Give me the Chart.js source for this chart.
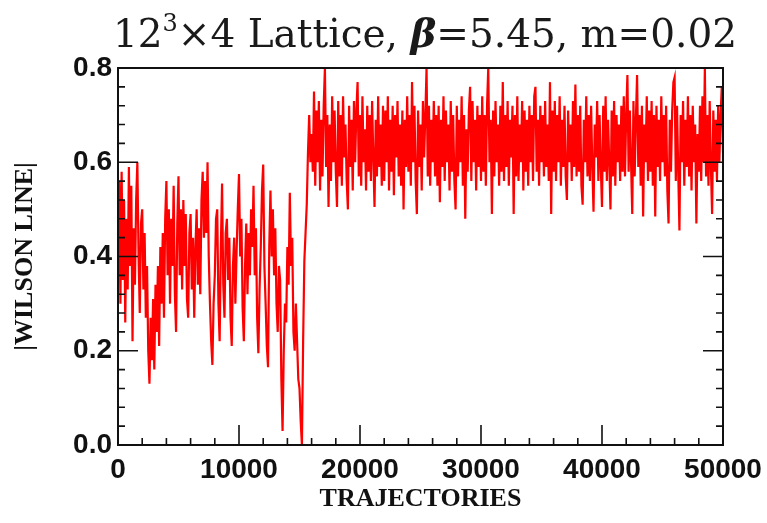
<!DOCTYPE html>
<html lang="en">
<head>
    <meta charset="UTF-8">
    <title>Wilson line history</title>
    <script src="https://cdn.jsdelivr.net/npm/chart.js"></script>
    <style>
        body {
            margin: 0;
            padding: 0;
            background-color: #fff;
        }
        .chart-container {
            position: relative;
            width: 767px;
            height: 523px;
        }
    </style>
</head>
<body>
    <div class="chart-container">
        <canvas id="wilsonChart"></canvas>
    </div>

    <script>
        const sampleEvery = 100;
        const wilsonLine = [
            0.42, 0.56, 0.30, 0.58, 0.35, 0.52, 0.26, 0.48, 0.33, 0.59, 0.38, 0.55, 0.22, 0.46, 0.34, 0.52, 0.60, 0.40, 0.28, 0.47,     // 0
            0.50, 0.33, 0.45, 0.27, 0.38, 0.20, 0.13, 0.27, 0.18, 0.31, 0.16, 0.34, 0.24, 0.38, 0.21, 0.42, 0.30, 0.45, 0.27, 0.48,     // 2000
            0.56, 0.36, 0.50, 0.30, 0.48, 0.38, 0.55, 0.32, 0.24, 0.47, 0.57, 0.36, 0.50, 0.33, 0.52, 0.38, 0.49, 0.31, 0.27, 0.45,     // 4000
            0.49, 0.33, 0.44, 0.27, 0.42, 0.50, 0.34, 0.46, 0.32, 0.52, 0.58, 0.44, 0.56, 0.45, 0.60, 0.40, 0.30, 0.22, 0.17, 0.30,     // 6000
            0.36, 0.48, 0.50, 0.30, 0.22, 0.42, 0.555, 0.34, 0.27, 0.45, 0.48, 0.35, 0.44, 0.27, 0.21, 0.38, 0.44, 0.30, 0.41, 0.50,    // 8000
            0.575, 0.40, 0.48, 0.29, 0.22, 0.38, 0.47, 0.32, 0.45, 0.36, 0.50, 0.42, 0.55, 0.36, 0.46, 0.27, 0.195, 0.33, 0.42, 0.54,   // 10000
            0.595, 0.38, 0.30, 0.21, 0.165, 0.42, 0.54, 0.40, 0.50, 0.36, 0.46, 0.30, 0.24, 0.38, 0.35, 0.14, 0.03, 0.20, 0.30, 0.26,   // 12000
            0.42, 0.34, 0.535, 0.38, 0.44, 0.24, 0.20, 0.30, 0.22, 0.14, 0.12, 0.05, 0.00, 0.22, 0.39, 0.45, 0.51, 0.62, 0.70, 0.60,    // 14000
            0.66, 0.58, 0.75, 0.55, 0.71, 0.60, 0.73, 0.54, 0.69, 0.57, 0.72, 0.80, 0.59, 0.70, 0.505, 0.68, 0.56, 0.74, 0.60, 0.71,    // 16000
            0.58, 0.505, 0.73, 0.57, 0.70, 0.55, 0.74, 0.61, 0.68, 0.56, 0.50, 0.72, 0.59, 0.69, 0.54, 0.73, 0.60, 0.71, 0.77, 0.57,    // 18000
            0.70, 0.55, 0.74, 0.60, 0.67, 0.54, 0.72, 0.58, 0.70, 0.56, 0.73, 0.61, 0.505, 0.69, 0.57, 0.74, 0.59, 0.68, 0.55, 0.72,    // 20000
            0.56, 0.71, 0.60, 0.74, 0.54, 0.69, 0.58, 0.72, 0.53, 0.70, 0.61, 0.73, 0.57, 0.68, 0.55, 0.71, 0.50, 0.69, 0.59, 0.74,     // 22000
            0.58, 0.70, 0.55, 0.77, 0.60, 0.72, 0.56, 0.49, 0.71, 0.59, 0.68, 0.54, 0.73, 0.61, 0.70, 0.80, 0.57, 0.72, 0.55, 0.69,     // 24000
            0.60, 0.73, 0.57, 0.70, 0.55, 0.72, 0.515, 0.69, 0.59, 0.74, 0.56, 0.71, 0.60, 0.68, 0.54, 0.73, 0.58, 0.70, 0.56, 0.50,    // 26000
            0.72, 0.57, 0.69, 0.60, 0.74, 0.55, 0.70, 0.48, 0.67, 0.58, 0.71, 0.76, 0.56, 0.73, 0.60, 0.69, 0.54, 0.72, 0.59, 0.70,     // 28000
            0.56, 0.74, 0.58, 0.70, 0.55, 0.72, 0.80, 0.60, 0.69, 0.49, 0.71, 0.57, 0.73, 0.60, 0.68, 0.55, 0.72, 0.58, 0.77, 0.56,     // 30000
            0.70, 0.59, 0.73, 0.55, 0.69, 0.61, 0.72, 0.49, 0.70, 0.57, 0.74, 0.56, 0.68, 0.60, 0.73, 0.54, 0.71, 0.58, 0.69, 0.55,     // 32000
            0.72, 0.60, 0.70, 0.56, 0.74, 0.76, 0.58, 0.69, 0.55, 0.72, 0.60, 0.70, 0.57, 0.73, 0.59, 0.68, 0.56, 0.77, 0.49, 0.71,     // 34000
            0.58, 0.73, 0.56, 0.70, 0.60, 0.74, 0.55, 0.69, 0.59, 0.72, 0.57, 0.52, 0.71, 0.60, 0.68, 0.56, 0.73, 0.59, 0.765, 0.57,    // 36000
            0.70, 0.58, 0.72, 0.55, 0.51, 0.69, 0.60, 0.74, 0.57, 0.70, 0.56, 0.72, 0.59, 0.495, 0.68, 0.61, 0.73, 0.56, 0.70, 0.59,    // 38000
            0.505, 0.72, 0.58, 0.74, 0.56, 0.69, 0.60, 0.50, 0.71, 0.57, 0.73, 0.55, 0.70, 0.60, 0.68, 0.56, 0.72, 0.58, 0.74, 0.57,    // 40000
            0.70, 0.785, 0.58, 0.71, 0.60, 0.49, 0.73, 0.57, 0.69, 0.785, 0.59, 0.70, 0.55, 0.72, 0.485, 0.68, 0.60, 0.74, 0.56, 0.71,  // 42000
            0.58, 0.73, 0.55, 0.70, 0.485, 0.72, 0.59, 0.69, 0.56, 0.74, 0.60, 0.70, 0.57, 0.72, 0.54, 0.47, 0.69, 0.58, 0.71, 0.77,    // 44000
            0.78, 0.56, 0.72, 0.58, 0.455, 0.70, 0.60, 0.73, 0.55, 0.69, 0.59, 0.74, 0.57, 0.70, 0.54, 0.72, 0.60, 0.68, 0.47, 0.66,    // 46000
            0.58, 0.72, 0.56, 0.74, 0.60, 0.80, 0.57, 0.70, 0.55, 0.73, 0.59, 0.49, 0.71, 0.58, 0.69, 0.56, 0.72, 0.60, 0.70, 0.76,     // 48000
            0.62                                                                                                                       // 50000
        ];
        const trajectories = wilsonLine.map((_, i) => i * sampleEvery);

        const xTicks = [0, 10000, 20000, 30000, 40000, 50000];
        const yTicks = [0.0, 0.2, 0.4, 0.6, 0.8];

        // title drawn in pieces so the superscript and the bold beta come out right
        const titlePlugin = {
            id: 'latticeTitle',
            afterDraw(chart) {
                const ctx = chart.ctx;
                const size = 39;
                const parts = [
                    { text: '12', font: `${size}px "DejaVu Serif"`, dy: 0 },
                    { text: '3', font: `${Math.round(size * 0.62)}px "DejaVu Serif"`, dy: -size * 0.42 },
                    { text: '×4 Lattice, ', font: `${size}px "DejaVu Serif"`, dy: 0 },
                    { text: 'β', font: `italic bold ${size}px "DejaVu Serif"`, dy: 0 },
                    { text: '=5.45, m=0.02', font: `${size}px "DejaVu Serif"`, dy: 0 }
                ];
                ctx.save();
                let total = 0;
                parts.forEach(p => {
                    ctx.font = p.font;
                    p.w = ctx.measureText(p.text).width;
                    total += p.w;
                });
                let x = 425 - total / 2;
                const baseline = 47;
                ctx.fillStyle = '#1a1a1a';
                ctx.textBaseline = 'alphabetic';
                parts.forEach(p => {
                    ctx.font = p.font;
                    ctx.fillText(p.text, x, baseline + p.dy);
                    x += p.w;
                });
                ctx.restore();
            }
        };

        // frame plus inward tick marks on left, right and bottom
        const framePlugin = {
            id: 'frameTicks',
            afterDraw(chart) {
                const { ctx, chartArea: a } = chart;
                const xs = chart.scales.x;
                const ys = chart.scales.y;
                ctx.save();
                ctx.strokeStyle = '#111';
                ctx.lineWidth = 2;
                ctx.strokeRect(a.left, a.top, a.right - a.left, a.bottom - a.top);
                ctx.lineWidth = 1.6;
                ctx.beginPath();
                for (let t = 0; t <= 50000; t += 2000) {
                    const px = xs.getPixelForValue(t);
                    const len = t % 10000 === 0 ? 20 : 7;
                    ctx.moveTo(px, a.bottom);
                    ctx.lineTo(px, a.bottom - len);
                }
                for (let k = 0; k <= 20; k++) {
                    const py = ys.getPixelForValue(k * 0.04);
                    const len = k % 5 === 0 ? 20 : 7;
                    ctx.moveTo(a.left, py);
                    ctx.lineTo(a.left + len, py);
                    ctx.moveTo(a.right, py);
                    ctx.lineTo(a.right - len, py);
                }
                ctx.stroke();
                ctx.restore();
            }
        };

        const ctx = document.getElementById('wilsonChart').getContext('2d');
        new Chart(ctx, {
            type: 'line',
            data: {
                datasets: [{
                    label: '|Wilson line|',
                    data: trajectories.map((t, i) => ({ x: t, y: wilsonLine[i] })),
                    borderColor: '#ff0000',
                    borderWidth: 2.2,
                    pointRadius: 0,
                    tension: 0,
                    fill: false
                }]
            },
            options: {
                responsive: true,
                maintainAspectRatio: false,
                animation: false,
                layout: {
                    padding: { top: 68, right: 44, left: 0, bottom: 0 }
                },
                scales: {
                    x: {
                        type: 'linear',
                        min: 0,
                        max: 50000,
                        afterFit: s => {
                            s.height = 78;
                            s.paddingLeft = 0;
                            s.paddingRight = 0;
                        },
                        afterBuildTicks: s => { s.ticks = xTicks.map(v => ({ value: v })); },
                        grid: { display: false, drawTicks: false },
                        border: { display: false },
                        ticks: {
                            padding: 8,
                            color: '#111',
                            maxRotation: 0,
                            font: { family: 'Liberation Sans', weight: 'bold', size: 28 },
                            callback: v => String(v)
                        },
                        title: {
                            display: true,
                            text: 'TRAJECTORIES',
                            color: '#111',
                            padding: { top: 0, bottom: 11 },
                            font: { family: 'Liberation Serif', weight: 'bold', size: 26, lineHeight: 1 }
                        }
                    },
                    y: {
                        min: 0,
                        max: 0.8,
                        afterFit: s => {
                            s.width = 118;
                            s.paddingTop = 0;
                            s.paddingBottom = 0;
                        },
                        afterBuildTicks: s => { s.ticks = yTicks.map(v => ({ value: v })); },
                        grid: { display: false, drawTicks: false },
                        border: { display: false },
                        ticks: {
                            padding: 6,
                            color: '#111',
                            font: { family: 'Liberation Sans', weight: 'bold', size: 28 },
                            callback: v => v.toFixed(1)
                        },
                        title: {
                            display: true,
                            text: '|WILSON LINE|',
                            color: '#111',
                            padding: { top: 12, bottom: 0 },
                            font: { family: 'Liberation Serif', weight: 'bold', size: 26, lineHeight: 1 }
                        }
                    }
                },
                plugins: {
                    legend: { display: false },
                    tooltip: { enabled: false }
                }
            },
            plugins: [titlePlugin, framePlugin]
        });
    </script>
</body>
</html>
